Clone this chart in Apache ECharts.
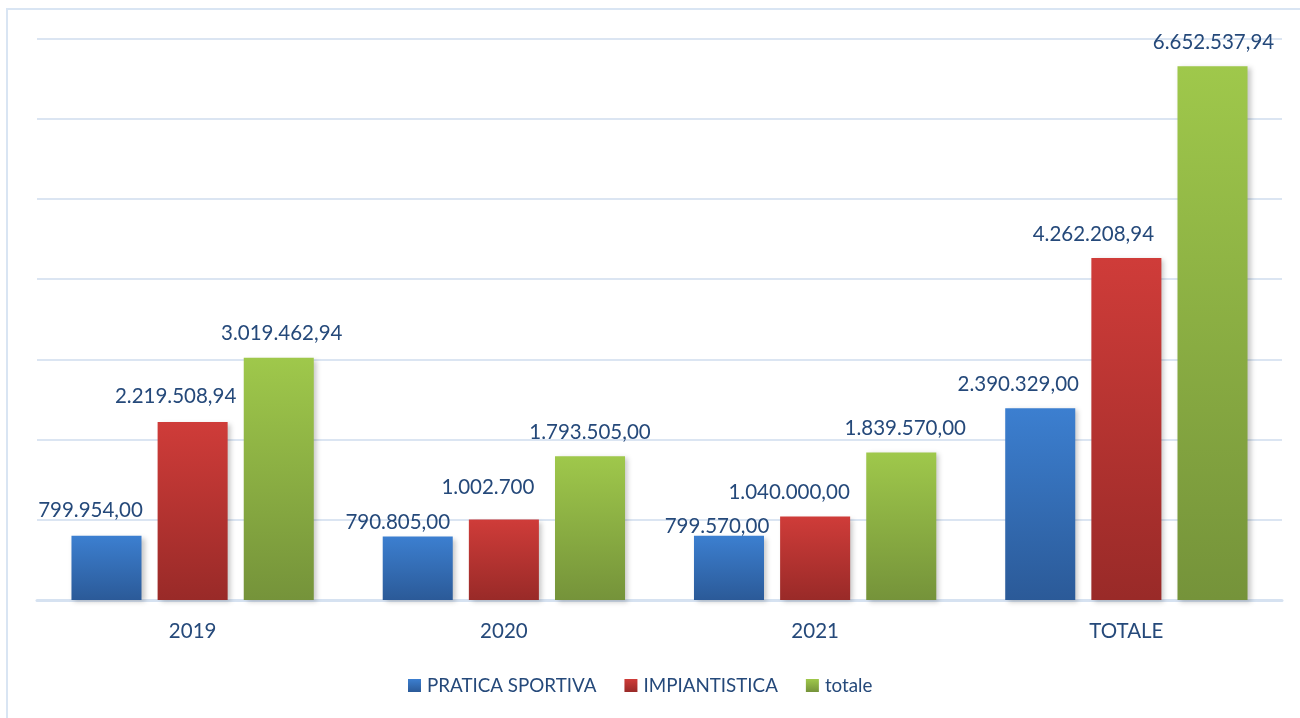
<!DOCTYPE html>
<html>
<head>
<meta charset="utf-8">
<script src="https://cdn.jsdelivr.net/npm/echarts@6/dist/echarts.min.js"></script>
<style>
html,body{margin:0;padding:0;background:#fff;}
#chart{width:1300px;height:718px;}
</style>
</head>
<body>
<div id="chart"></div>
<script>
const categories = ['2019', '2020', '2021', 'TOTALE'];
const seriesNames = ['PRATICA SPORTIVA', 'IMPIANTISTICA', 'totale'];
const praticaSportiva = [799954.00, 790805.00, 799570.00, 2390329.00];
const impiantistica = [2219508.94, 1002700.00, 1040000.00, 4262208.94];
const totale = [3019462.94, 1793505.00, 1839570.00, 6652537.94];
const praticaLabels = ['799.954,00', '790.805,00', '799.570,00', '2.390.329,00'];
const impiantisticaLabels = ['2.219.508,94', '1.002.700', '1.040.000,00', '4.262.208,94'];
const totaleLabels = ['3.019.462,94', '1.793.505,00', '1.839.570,00', '6.652.537,94'];

// label nudges (layout only)
const labelShift = [
  [[-16,0],[-20,11],[-12,16],[-22,1]],
  [[-17,-1],[-16,-7],[-26,1],[-33,1]],
  [[3,1],[0,1],[4,1],[1,1]]
];

const textColor = '#25497a';
const fontFamily = 'Lato, "Liberation Sans", sans-serif';

function grad(top, bottom) {
  return new echarts.graphic.LinearGradient(0, 0, 0, 1, [
    {offset: 0, color: top}, {offset: 1, color: bottom}
  ]);
}
const colors = [
  grad('#3c7fd0', '#2b5a98'),
  grad('#cf3c39', '#992a28'),
  grad('#9fc84b', '#75933a')
];

const values = [praticaSportiva, impiantistica, totale];
const labels = [praticaLabels, impiantisticaLabels, totaleLabels];

const series = values.map((arr, si) => ({
  name: seriesNames[si],
  type: 'bar',
  barWidth: '22.5%',
  barGap: '23%',
  itemStyle: {
    color: colors[si],
    shadowBlur: 5,
    shadowOffsetX: 3,
    shadowOffsetY: 2,
    shadowColor: 'rgba(0,0,0,0.22)'
  },
  data: arr.map((v, i) => ({
    value: v,
    label: {offset: labelShift[si][i]}
  })),
  label: {
    show: true,
    position: 'top',
    distance: 13,
    color: textColor,
    fontSize: 20.5,
    fontFamily: fontFamily,
    lineHeight: 24,
    formatter: p => labels[si][p.dataIndex]
  }
}));

const chart = echarts.init(document.getElementById('chart'), null, {renderer: 'canvas'});
chart.setOption({
  animation: false,
  backgroundColor: '#ffffff',
  graphic: [{
    type: 'rect',
    shape: {x: 7, y: 9, width: 1310, height: 730},
    style: {fill: 'none', stroke: '#d9e5f3', lineWidth: 2},
    z: -1
  }],
  grid: {left: 37, right: 18, top: 38.5, bottom: 118, containLabel: false},
  legend: {
    left: 403,
    top: 671,
    itemWidth: 13,
    itemHeight: 13,
    itemGap: 28,
    icon: 'rect',
    textStyle: {color: textColor, fontSize: 18.8, fontFamily: fontFamily, padding: [0, 0, 0, 1]},
    data: seriesNames
  },
  xAxis: {
    type: 'category',
    data: categories,
    axisLine: {lineStyle: {color: '#d6e2f1', width: 3}},
    axisTick: {show: false},
    axisLabel: {color: textColor, fontSize: 20.5, fontFamily: fontFamily, margin: 21}
  },
  yAxis: {
    type: 'value',
    min: 0,
    max: 7000000,
    interval: 1000000,
    axisLine: {show: false},
    axisTick: {show: false},
    axisLabel: {show: false},
    splitLine: {lineStyle: {color: '#dbe5f2', width: 2}}
  },
  series: series
});
</script>
</body>
</html>
